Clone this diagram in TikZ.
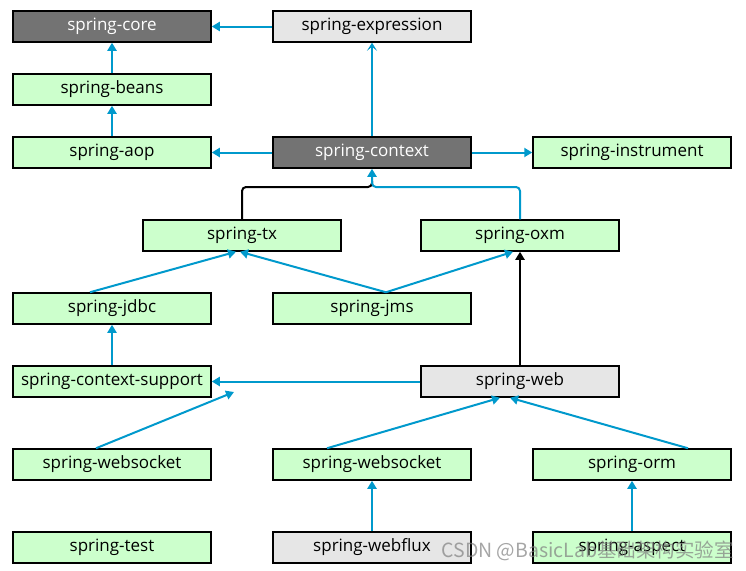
\documentclass[tikz,border=0pt]{standalone}
\usepackage{fontspec}
\setmainfont{Open Sans}
\newfontfamily\cjkfont{Noto Sans CJK SC}
\usetikzlibrary{arrows.meta}
\definecolor{boxgreen}{HTML}{CCFFCC}
\definecolor{boxdark}{HTML}{737373}
\definecolor{boxlight}{HTML}{E6E6E6}
\definecolor{linkblue}{HTML}{0099CC}
\begin{document}
\begin{tikzpicture}[x=1pt,y=-1pt,
  mod/.style={draw=black, line width=1.5pt, minimum width=198pt, minimum height=31pt, inner sep=0pt, font=\fontsize{17}{19}\selectfont},
  gbox/.style={mod, fill=boxgreen, text=black},
  dbox/.style={mod, fill=boxdark, text=white},
  lbox/.style={mod, fill=boxlight, text=black},
  link/.style={draw=linkblue, line width=2pt, -{Triangle[length=8pt,width=9pt]}},
  openlink/.style={draw=linkblue, line width=2pt, -{Stealth[length=8pt,width=10pt,inset=4pt]}},
  blacklink/.style={draw=black, line width=2pt, -{Triangle[length=8pt,width=9pt]}}
]
\useasboundingbox (0,0) rectangle (746,570);
% row 1-3
\node[dbox] (core) at (112,26.5) {spring-core};
\node[lbox] (expr) at (372,26.5) {spring-expression};
\node[gbox] (beans) at (112,89.5) {spring-beans};
\node[gbox] (aop) at (112,152.5) {spring-aop};
\node[dbox] (ctx) at (372,152.5) {spring-context};
\node[gbox] (instr) at (632,152.5) {spring-instrument};
% row 4
\node[gbox] (tx) at (242,235.5) {spring-tx};
\node[gbox] (oxm) at (520,235.5) {spring-oxm};
% row 5
\node[gbox] (jdbc) at (112,308.5) {spring-jdbc};
\node[gbox] (jms) at (372,308.5) {spring-jms};
% row 6
\node[gbox] (cs) at (112,381.5) {spring-context-support};
\node[lbox] (web) at (520,381.5) {spring-web};
% row 7
\node[gbox] (ws1) at (112,464.5) {spring-websocket};
\node[gbox] (ws2) at (372,464.5) {spring-websocket};
\node[gbox] (orm) at (632,464.5) {spring-orm};
% row 8
\node[gbox] (test) at (112,547.5) {spring-test};
\node[lbox] (flux) at (372,547.5) {spring-webflux};
\node[gbox] (aspect) at (632,547.5) {spring-aspect};

\coordinate (join) at (372,187);
\coordinate (free) at (234,392);

\draw[link] (expr) -- (core);
\draw[link] (beans) -- (core);
\draw[link] (aop) -- (beans);
\draw[link] (ctx) -- (aop);
\draw[openlink] (ctx) -- (expr);
\draw[link] (ctx) -- (instr);
\draw[draw=black, line width=2pt, rounded corners=4pt] (tx.north) |- (join) -- ++(0,-6);
\draw[link, rounded corners=4pt] (oxm.north) |- (join) -- (ctx.south);
\draw[link] ([xshift=-22pt]jdbc.north) -- ([xshift=-6pt]tx.south);
\draw[link] ([xshift=14pt]jms.north) -- ([xshift=-2pt]tx.south);
\draw[link] ([xshift=14pt]jms.north) -- ([xshift=-7pt]oxm.south);
\draw[blacklink] (web.north) -- (oxm.south);
\draw[link] (cs) -- (jdbc);
\draw[link] (web) -- (cs);
\draw[link] ([xshift=-16pt]ws1.north) -- (free);
\draw[link] ([xshift=-45pt]ws2.north) -- ([xshift=-20pt]web.south);
\draw[link] ([xshift=56pt]orm.north) -- ([xshift=-10pt]web.south);
\draw[link] (flux) -- (ws2);
\draw[link] (aspect) -- (orm);

\node[text=gray, opacity=0.7, font=\cjkfont\fontsize{19.5}{22}\selectfont, anchor=east, inner sep=0pt] (wm) at (734,551) {CSDN @BasicLab基础架构实验室};
\end{tikzpicture}
\end{document}
